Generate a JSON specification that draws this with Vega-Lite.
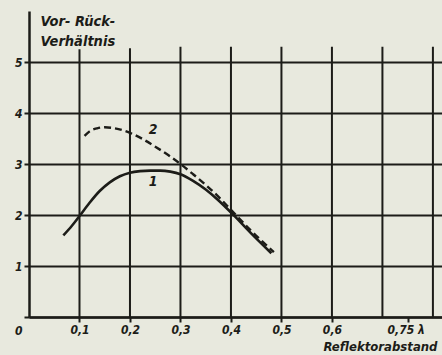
{
  "$schema": "https://vega.github.io/schema/vega-lite/v6.json",
  "width": 413,
  "height": 306,
  "autosize": "none",
  "padding": {"left": 29, "top": 11, "right": 0, "bottom": 38},
  "background": "#e8e9de",
  "config": {
    "view": {"stroke": null},
    "font": "DejaVu Sans Condensed",
    "axis": {
      "domainColor": "#1c1c18", "domainWidth": 2.5,
      "tickColor": "#1c1c18", "tickWidth": 2, "tickSize": 5,
      "labelColor": "#1c1c18", "labelFont": "DejaVu Sans Condensed", "labelFontStyle": "italic", "labelFontWeight": "bold", "labelFontSize": 12,
      "titleColor": "#1c1c18", "titleFont": "DejaVu Sans Condensed", "titleFontStyle": "italic", "titleFontWeight": "bold", "titleFontSize": 13
    }
  },
  "datasets": {
    "grid": [
      {"x": 0.1, "y": 0, "y1": 5.25},
      {"x": 0.2, "y": 0, "y1": 5.27},
      {"x": 0.3, "y": 0, "y1": 5.3},
      {"x": 0.4, "y": 0, "y1": 5.3},
      {"x": 0.5, "y": 0, "y1": 5.3},
      {"x": 0.6, "y": 0, "y1": 5.3},
      {"x": 0.7, "y": 0, "y1": 5.3},
      {"x": 0.8, "y": 0, "y1": 5.3}
    ],
    "c1": [
      {"x": 0.068, "y": 1.6},
      {"x": 0.085, "y": 1.79},
      {"x": 0.1, "y": 1.98},
      {"x": 0.12, "y": 2.24},
      {"x": 0.14, "y": 2.47},
      {"x": 0.16, "y": 2.64},
      {"x": 0.18, "y": 2.76},
      {"x": 0.2, "y": 2.83},
      {"x": 0.22, "y": 2.86},
      {"x": 0.24, "y": 2.87},
      {"x": 0.26, "y": 2.87},
      {"x": 0.28, "y": 2.85},
      {"x": 0.3, "y": 2.8},
      {"x": 0.325, "y": 2.67},
      {"x": 0.35, "y": 2.5},
      {"x": 0.375, "y": 2.29},
      {"x": 0.4, "y": 2.05},
      {"x": 0.44, "y": 1.64},
      {"x": 0.48, "y": 1.25}
    ],
    "c2": [
      {"x": 0.11, "y": 3.55},
      {"x": 0.12, "y": 3.64},
      {"x": 0.135, "y": 3.7},
      {"x": 0.15, "y": 3.72},
      {"x": 0.175, "y": 3.69},
      {"x": 0.2, "y": 3.61},
      {"x": 0.225, "y": 3.49},
      {"x": 0.25, "y": 3.34},
      {"x": 0.275, "y": 3.18},
      {"x": 0.3, "y": 3.0},
      {"x": 0.325, "y": 2.8},
      {"x": 0.35, "y": 2.59},
      {"x": 0.375, "y": 2.36},
      {"x": 0.4, "y": 2.1},
      {"x": 0.44, "y": 1.69},
      {"x": 0.485, "y": 1.27}
    ],
    "labels": [
      {"x": 0.246, "y": 3.67, "t": "2"},
      {"x": 0.246, "y": 2.65, "t": "1"}
    ]
  },
  "layer": [
    {
      "data": {"name": "grid"},
      "mark": {"type": "rule", "color": "#1c1c18", "strokeWidth": 2},
      "encoding": {
        "x": {
          "field": "x", "type": "quantitative",
          "scale": {"domain": [0, 0.818], "nice": false, "zero": false},
          "axis": {
            "title": "Reflektorabstand",
            "titleX": 408, "titleY": 33, "titleAlign": "right", "titleBaseline": "alphabetic",
            "values": [0.1, 0.2, 0.3, 0.4, 0.5, 0.6, 0.75],
            "labelExpr": "datum.value == 0.75 ? '0,75 λ' : replace(format(datum.value, '.1f'), '.', ',')",
            "labelOffset": {"condition": {"test": "datum.value == 0.75", "value": -2}, "value": 0},
            "grid": false, "labelPadding": 2, "labelFlush": false, "labelOverlap": false
          }
        },
        "y": {
          "field": "y", "type": "quantitative",
          "scale": {"domain": [0, 6], "nice": false},
          "axis": {
            "title": ["Vor-  Rück-", "Verhältnis"],
            "titleAngle": 0, "titleAlign": "left", "titleBaseline": "top",
            "titleX": 11, "titleY": 3, "titleLineHeight": 20, "titleFontSize": 14.5,
            "values": [0, 1, 2, 3, 4, 5],
            "grid": true, "gridColor": "#1c1c18", "gridWidth": 2, "gridOpacity": 1,
            "labelPadding": 2,
            "labelOffset": {"condition": {"test": "datum.value == 0", "value": 13}, "value": 0}
          }
        },
        "y2": {"field": "y1"}
      }
    },
    {
      "data": {"name": "c1"},
      "mark": {"type": "line", "color": "#1c1c18", "strokeWidth": 2.6, "interpolate": "monotone"},
      "encoding": {
        "x": {"field": "x", "type": "quantitative"},
        "y": {"field": "y", "type": "quantitative"}
      }
    },
    {
      "data": {"name": "c2"},
      "mark": {"type": "line", "color": "#1c1c18", "strokeWidth": 2.4, "strokeDash": [7, 4], "interpolate": "monotone"},
      "encoding": {
        "x": {"field": "x", "type": "quantitative"},
        "y": {"field": "y", "type": "quantitative"}
      }
    },
    {
      "data": {"name": "labels"},
      "mark": {"type": "text", "color": "#1c1c18", "font": "DejaVu Sans Condensed", "fontStyle": "italic", "fontWeight": "bold", "fontSize": 14},
      "encoding": {
        "x": {"field": "x", "type": "quantitative"},
        "y": {"field": "y", "type": "quantitative"},
        "text": {"field": "t"}
      }
    }
  ]
}
